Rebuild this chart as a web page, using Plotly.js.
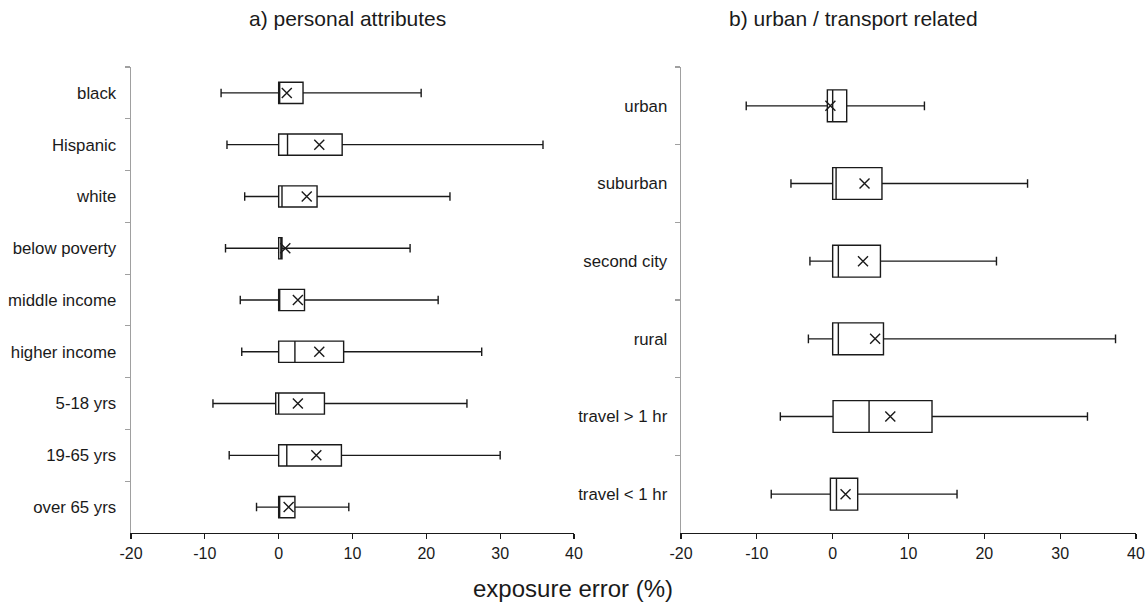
<!DOCTYPE html>
<html>
<head>
<meta charset="utf-8">
<script src="https://cdn.plot.ly/plotly-3.0.1.min.js"></script>
<style>html,body{margin:0;padding:0;background:#fff;}#chart{width:1146px;height:606px;}</style>
</head>
<body>
<div id="chart"></div>
<script>
// a) personal attributes
const catsA = ["black","Hispanic","white","below poverty","middle income","higher income","5-18 yrs","19-65 yrs","over 65 yrs"];
const lowA  = [-7.8, -7.0, -4.6, -7.2, -5.2, -5.0, -8.9, -6.7, -3.0];
const q1A   = [0.0, 0.0, 0.0, 0.0, 0.0, 0.0, -0.4, 0.0, 0.0];
const medA  = [0.0, 1.2, 0.45, 0.3, 0.0, 2.2, 0.0, 1.1, 0.0];
const q3A   = [3.3, 8.6, 5.2, 0.45, 3.5, 8.8, 6.2, 8.5, 2.2];
const highA = [19.3, 35.8, 23.2, 17.8, 21.6, 27.5, 25.5, 30.0, 9.5];
const meanA = [1.1, 5.5, 3.8, 0.9, 2.6, 5.5, 2.6, 5.1, 1.35];

// b) urban / transport related
const catsB = ["urban","suburban","second city","rural","travel > 1 hr","travel < 1 hr"];
const lowB  = [-11.4, -5.5, -3.0, -3.2, -6.9, -8.1];
const q1B   = [-0.7, 0.0, 0.0, 0.0, 0.05, -0.3];
const medB  = [0.0, 0.45, 0.75, 0.75, 4.8, 0.5];
const q3B   = [1.85, 6.5, 6.3, 6.7, 13.1, 3.3];
const highB = [12.1, 25.7, 21.6, 37.3, 33.6, 16.4];
const meanB = [-0.3, 4.2, 4.0, 5.6, 7.6, 1.7];

const xTickVals = [-20, -10, 0, 10, 20, 30, 40];

const FONT = "Liberation Sans, Arial, sans-serif";
const INK = "#1a1a1a";
const boxStyle = {
  type: "box", orientation: "h", boxpoints: false, boxmean: false,
  line: {color: INK, width: 1.4}, fillcolor: "rgba(255,255,255,0)",
  width: 0.41, showlegend: false, hoverinfo: "skip"
};
const meanStyle = {
  type: "scatter", mode: "markers", showlegend: false, hoverinfo: "skip",
  marker: {symbol: "x-thin-open", size: 10, color: INK, line: {color: INK, width: 1.4}}
};

const data = [
  Object.assign({}, boxStyle, {y: catsA, q1: q1A, median: medA, q3: q3A, lowerfence: lowA, upperfence: highA, whiskerwidth: 0.4, xaxis: "x", yaxis: "y"}),
  Object.assign({}, meanStyle, {x: meanA, y: catsA, xaxis: "x", yaxis: "y"}),
  Object.assign({}, boxStyle, {y: catsB, q1: q1B, median: medB, q3: q3B, lowerfence: lowB, upperfence: highB, whiskerwidth: 0.27, xaxis: "x2", yaxis: "y2"}),
  Object.assign({}, meanStyle, {x: meanB, y: catsB, xaxis: "x2", yaxis: "y2"})
];

const xax = {
  range: [-20, 40], tickvals: xTickVals, ticktext: xTickVals.map(String),
  ticks: "outside", ticklen: 5, tickwidth: 1.2, tickcolor: INK,
  showline: true, linecolor: INK, linewidth: 1.4,
  showgrid: false, zeroline: false, fixedrange: true,
  tickfont: {family: FONT, size: 16, color: INK}
};
const yax = {
  type: "category", tickson: "boundaries",
  ticks: "outside", ticklen: 5, tickwidth: 1.2, tickcolor: "#a0a0a0",
  showline: true, linecolor: "#a0a0a0", linewidth: 1.4,
  showgrid: false, zeroline: false, fixedrange: true,
  tickfont: {family: FONT, size: 16.8, color: INK}
};

const titleFont = {family: FONT, size: 21, color: INK};
const layout = {
  width: 1146, height: 606,
  margin: {l: 0, r: 0, t: 67, b: 73},
  paper_bgcolor: "#fff", plot_bgcolor: "#fff",
  font: {family: FONT, color: INK},
  xaxis: Object.assign({}, xax, {domain: [131/1146, 574/1146], anchor: "y"}),
  yaxis: Object.assign({}, yax, {anchor: "x", range: [8.5, -0.5], autorange: false, ticklabelstandoff: 10}),
  xaxis2: Object.assign({}, xax, {domain: [681/1146, 1136/1146], anchor: "y2"}),
  yaxis2: Object.assign({}, yax, {anchor: "x2", range: [5.5, -0.5], autorange: false, ticklabelstandoff: 9}),
  annotations: [
    {text: "a) personal attributes", xref: "paper", yref: "paper", x: 347/1146, y: (533 - 19) / 466,
     xanchor: "center", yanchor: "middle", showarrow: false, font: titleFont},
    {text: "b) urban / transport related", xref: "paper", yref: "paper", x: 853/1146, y: (533 - 19) / 466,
     xanchor: "center", yanchor: "middle", showarrow: false, font: titleFont},
    {text: "exposure error (%)", xref: "paper", yref: "paper", x: 573/1146, y: (533 - 588) / 466,
     xanchor: "center", yanchor: "middle", showarrow: false, font: {family: FONT, size: 24, color: INK}}
  ]
};

Plotly.newPlot("chart", data, layout, {displayModeBar: false, staticPlot: true});
</script>
</body>
</html>
